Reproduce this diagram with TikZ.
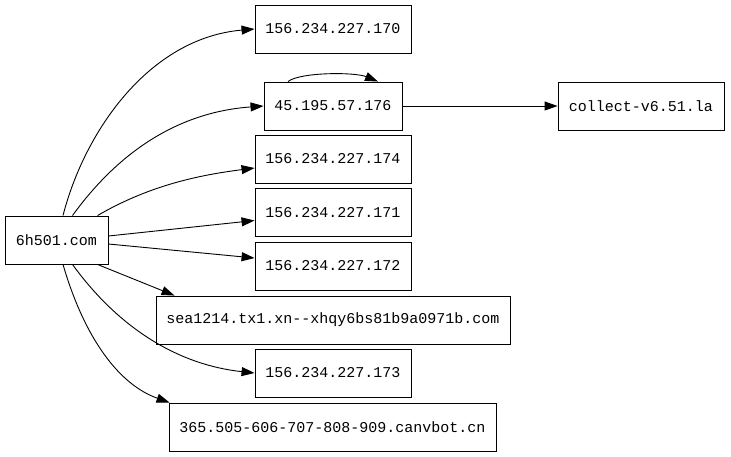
\documentclass[tikz,border=0pt]{standalone}
\usepackage{fontspec}
\setmonofont{Liberation Mono}
\usetikzlibrary{arrows.meta}
\begin{document}
\begin{tikzpicture}[x=1pt,y=-1pt,
  box/.style={draw,line width=0.9pt,rectangle,inner sep=0pt,minimum height=48pt,font=\ttfamily\fontsize{15}{17}\selectfont},
  edge/.style={line width=0.9pt,-{Triangle[length=13pt,width=9pt]}}]
\useasboundingbox[fill=white] (0,0) rectangle (731,456);
\node[box,minimum width=103pt] (a) at (56.5,240) {6h501.com};
\node[box,minimum width=156pt] (n170) at (333,29) {156.234.227.170};
\node[box,minimum width=138pt] (n45) at (333,106) {45.195.57.176};
\node[box,minimum width=166pt] (col) at (641,106) {collect-v6.51.la};
\node[box,minimum width=156pt] (n174) at (333,159) {156.234.227.174};
\node[box,minimum width=156pt] (n171) at (333,212.5) {156.234.227.171};
\node[box,minimum width=156pt] (n172) at (333,266) {156.234.227.172};
\node[box,minimum width=354pt] (sea) at (333,320) {sea1214.tx1.xn--xhqy6bs81b9a0971b.com};
\node[box,minimum width=156pt] (n173) at (333,373) {156.234.227.173};
\node[box,minimum width=327pt] (cn) at (332.5,427) {365.505-606-707-808-909.canvbot.cn};
\draw[edge] ([xshift=6.5pt]a.north) .. controls (85,130) and (150,38) .. (n170.west);
\draw[edge] ([xshift=16pt]a.north) .. controls (120,150) and (180,112) .. (n45.west);
\draw[edge] ([xshift=41pt]a.north) .. controls (150,185) and (200,175) .. ([yshift=-9pt]n174.west);
\draw[edge] ([yshift=4pt]a.east) -- ([yshift=-8pt]n171.west);
\draw[edge] ([yshift=-4pt]a.east) -- ([yshift=8pt]n172.west);
\draw[edge] ([xshift=41pt]a.south) -- ([xshift=19pt]sea.north west);
\draw[edge] ([xshift=16pt]a.south) .. controls (120,330) and (180,365) .. (n173.west);
\draw[edge] ([xshift=6.5pt]a.south) .. controls (85,340) and (120,385) .. ([xshift=1pt]cn.north west);
\draw[edge] ([xshift=-45pt]n45.north) .. controls (300,72) and (355,72) .. ([xshift=45pt]n45.north);
\draw[edge] (n45.east) -- (col.west);
\end{tikzpicture}
\end{document}
